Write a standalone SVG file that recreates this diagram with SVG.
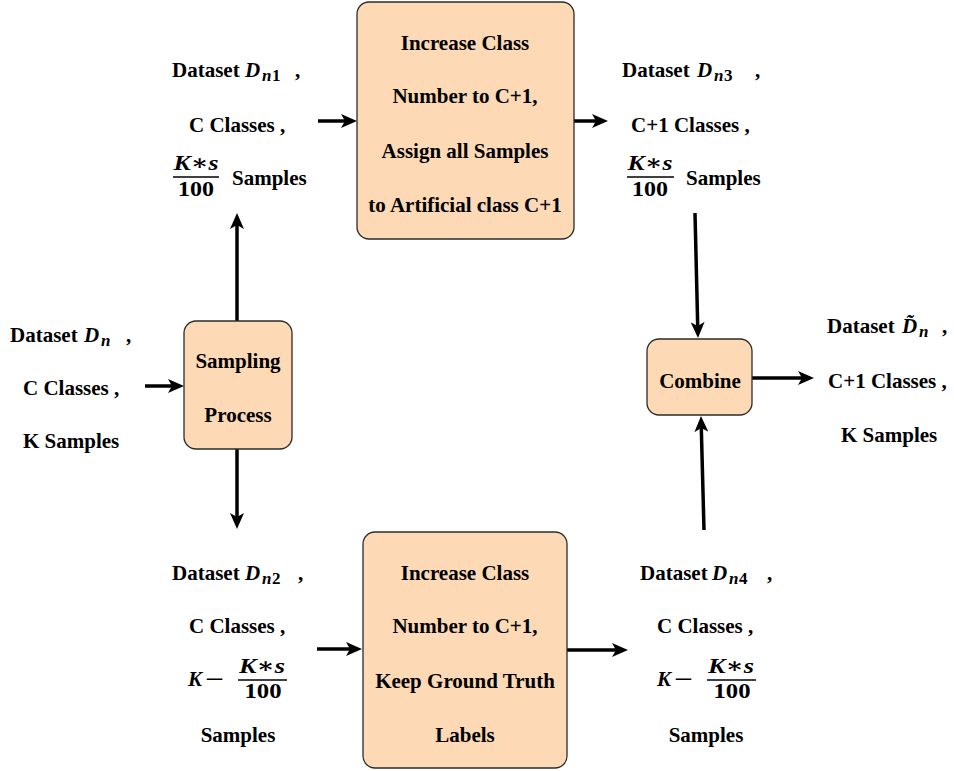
<svg xmlns="http://www.w3.org/2000/svg" width="954" height="771" viewBox="0 0 954 771">
<style>
text{font-family:'Liberation Serif','DejaVu Serif',serif;font-weight:bold;font-size:21px;fill:#000}
.c{text-anchor:middle}
.mi{font-style:italic}
.ms{font-style:italic;font-size:17px}
.sb{font-size:17px}
.box{fill:#FDD9B5;stroke:#2b2b2b;stroke-width:1.3}
.bar{stroke:#000;stroke-width:1.3}
.con line{stroke:#000;stroke-width:3.5;marker-end:url(#ah)}
</style>
<defs>
<marker id="ah" markerUnits="userSpaceOnUse" markerWidth="17" markerHeight="14" refX="4" refY="7" orient="auto">
<path d="M0,0 L16,7 L0,14 L4,7 z" fill="#000"/>
</marker>
</defs>
<rect width="954" height="771" fill="#fff"/>

<g id="connectors" class="con">
<line x1="145" y1="386" x2="172" y2="386"/>
<line x1="237" y1="321" x2="237" y2="225"/>
<line x1="237" y1="449" x2="237" y2="517"/>
<line x1="318" y1="121" x2="345" y2="121"/>
<line x1="574" y1="121" x2="596" y2="121"/>
<line x1="695" y1="213" x2="697.7" y2="326"/>
<line x1="704" y1="530" x2="701.3" y2="428"/>
<line x1="752" y1="378" x2="802" y2="378"/>
<line x1="317" y1="649" x2="350" y2="649"/>
<line x1="567" y1="650" x2="616" y2="650"/>
</g>

<g id="top-box">
<rect class="box" x="357" y="2" width="217" height="237" rx="12"/>
<text class="c" x="465" y="50">Increase Class</text>
<text class="c" x="465" y="103">Number to C+1,</text>
<text class="c" x="465" y="158">Assign all Samples</text>
<text class="c" x="465" y="212">to Artificial class C+1</text>
</g>

<g id="sampling">
<rect class="box" x="184" y="321" width="108" height="128" rx="12"/>
<text class="c" x="238" y="368">Sampling</text>
<text class="c" x="238" y="422">Process</text>
</g>

<g id="combine">
<rect class="box" x="647" y="339" width="105" height="76" rx="12"/>
<text class="c" x="700" y="388">Combine</text>
</g>

<g id="bottom-box">
<rect class="box" x="363" y="532" width="204" height="236" rx="12"/>
<text class="c" x="465" y="580">Increase Class</text>
<text class="c" x="465" y="633">Number to C+1,</text>
<text class="c" x="465" y="688">Keep Ground Truth</text>
<text class="c" x="465" y="742">Labels</text>
</g>

<g id="input">
<text y="342"><tspan x="10">Dataset</tspan><tspan x="84" class="mi">D</tspan><tspan x="101" dy="4" class="ms">n</tspan><tspan x="126" dy="-4">,</tspan></text>
<text x="23" y="395">C Classes ,</text>
<text x="23" y="448">K Samples</text>
</g>

<g id="dn1">
<text y="77"><tspan x="172">Dataset</tspan><tspan x="245" class="mi">D</tspan><tspan x="262" dy="4" class="ms">n</tspan><tspan x="272" class="sb">1</tspan><tspan x="295" dy="-4">,</tspan></text>
<text x="189" y="132">C Classes ,</text>
<text class="c mi" x="196" y="170" textLength="45" lengthAdjust="spacingAndGlyphs">K∗s</text>
<line class="bar" x1="173" y1="177" x2="219" y2="177"/>
<text class="c" x="196" y="196" textLength="36" lengthAdjust="spacingAndGlyphs">100</text>
<text x="232" y="185">Samples</text>
</g>

<g id="dn3">
<text y="77"><tspan x="622">Dataset</tspan><tspan x="697" class="mi">D</tspan><tspan x="714" dy="4" class="ms">n</tspan><tspan x="724" class="sb">3</tspan><tspan x="755" dy="-4">,</tspan></text>
<text x="631" y="132">C+1 Classes ,</text>
<text class="c mi" x="650" y="170" textLength="45" lengthAdjust="spacingAndGlyphs">K∗s</text>
<line class="bar" x1="627" y1="177" x2="674" y2="177"/>
<text class="c" x="650" y="196" textLength="36" lengthAdjust="spacingAndGlyphs">100</text>
<text x="686" y="185">Samples</text>
</g>

<g id="output">
<text y="333"><tspan x="827">Dataset</tspan><tspan x="902" class="mi">D̃</tspan><tspan x="919" dy="4" class="ms">n</tspan><tspan x="942" dy="-4">,</tspan></text>
<text x="828" y="388">C+1 Classes ,</text>
<text x="841" y="442">K Samples</text>
</g>

<g id="dn2">
<text y="580"><tspan x="172">Dataset</tspan><tspan x="245" class="mi">D</tspan><tspan x="262" dy="4" class="ms">n</tspan><tspan x="272" class="sb">2</tspan><tspan x="298" dy="-4">,</tspan></text>
<text x="189" y="633">C Classes ,</text>
<text class="mi" x="188" y="686">K</text>
<text x="205" y="686" textLength="19" lengthAdjust="spacingAndGlyphs">−</text>
<text class="c mi" x="262" y="673" textLength="46" lengthAdjust="spacingAndGlyphs">K∗s</text>
<line class="bar" x1="238" y1="680" x2="287" y2="680"/>
<text class="c" x="263" y="698" textLength="37" lengthAdjust="spacingAndGlyphs">100</text>
<text class="c" x="238" y="742">Samples</text>
</g>

<g id="dn4">
<text y="580"><tspan x="640">Dataset</tspan><tspan x="712" class="mi">D</tspan><tspan x="729" dy="4" class="ms">n</tspan><tspan x="739" class="sb">4</tspan><tspan x="767" dy="-4">,</tspan></text>
<text x="657" y="633">C Classes ,</text>
<text class="mi" x="657" y="686">K</text>
<text x="674" y="686" textLength="19" lengthAdjust="spacingAndGlyphs">−</text>
<text class="c mi" x="731" y="673" textLength="46" lengthAdjust="spacingAndGlyphs">K∗s</text>
<line class="bar" x1="707" y1="680" x2="756" y2="680"/>
<text class="c" x="732" y="698" textLength="37" lengthAdjust="spacingAndGlyphs">100</text>
<text class="c" x="706" y="742">Samples</text>
</g>
</svg>
